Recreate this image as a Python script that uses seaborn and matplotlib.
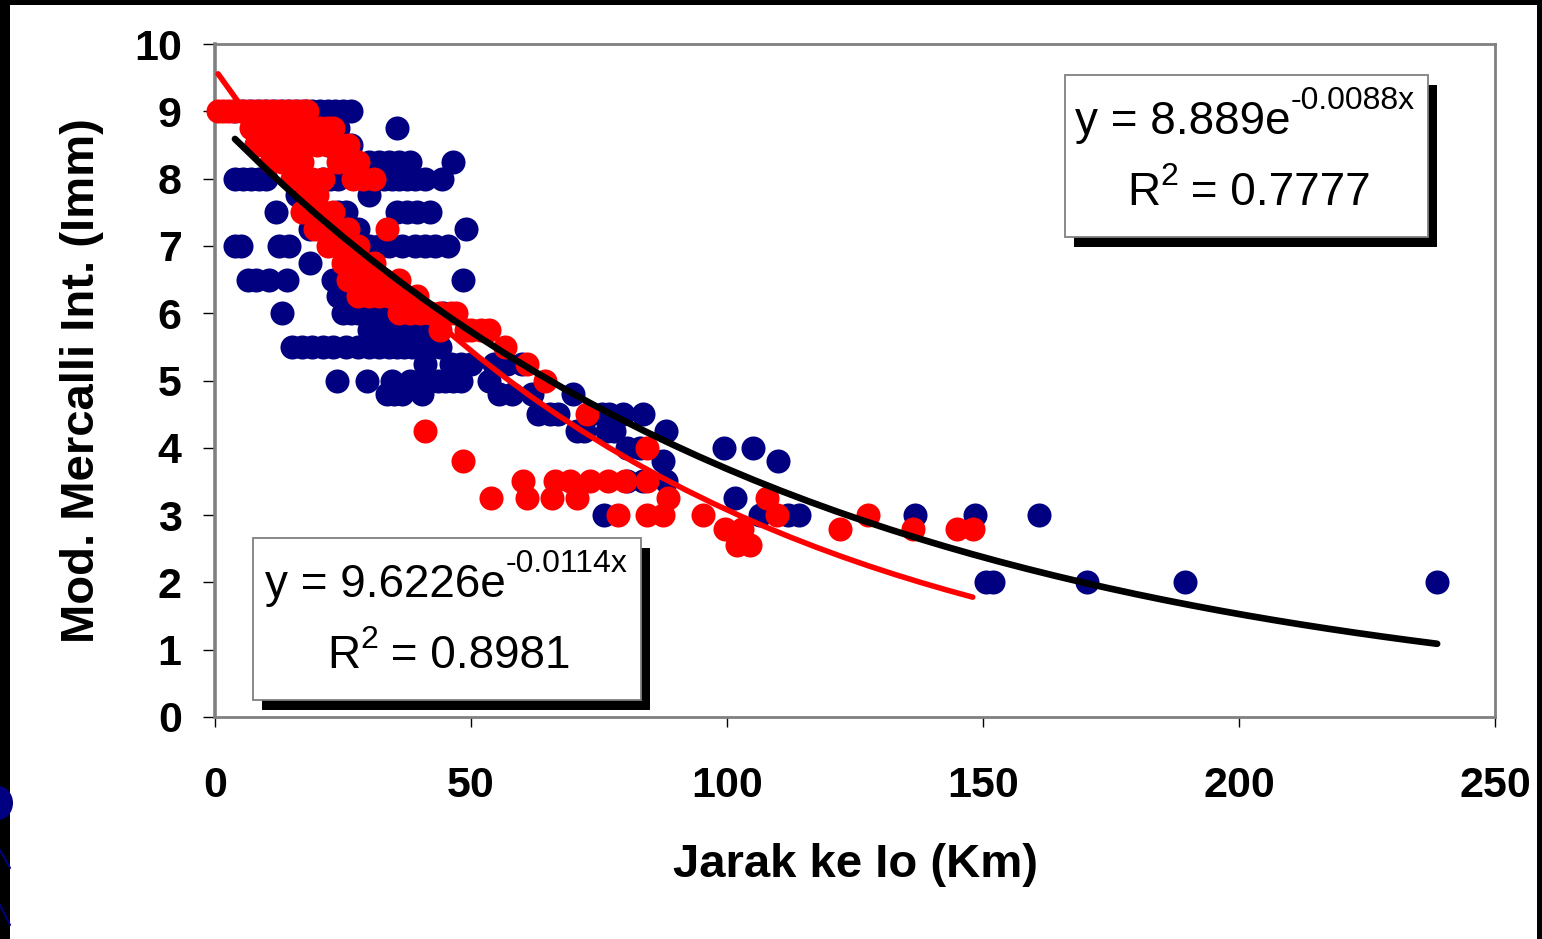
import numpy as np
import pandas as pd
import matplotlib
matplotlib.use("Agg")
import matplotlib.pyplot as plt
import seaborn as sns
from matplotlib.patches import Rectangle, Ellipse

# ---------------- data ----------------
blue_x = ([4, 5.5, 7, 8.5, 10, 11.5, 13, 14.5, 16, 17.5, 19, 20.5, 22, 23.5, 25, 26.5]
          + [12, 16, 20, 24, 35.5]
          + [8, 22, 26.5]
          + [30, 32, 34, 36, 38, 46.5]
          + [4, 5.5, 7, 8.5, 10, 21, 22.5, 24, 30, 31.5, 33, 34.5, 36, 37.5, 39, 41, 44.3]
          + [16, 19, 30]
          + [12, 24, 25.5, 35.5, 37.5, 39.5, 42]
          + [18.5, 22, 28, 49]
          + [3.9, 5, 12.5, 14.5, 27, 30, 32, 34, 36.5, 39, 41, 43, 45.5]
          + [18.5, 29]
          + [6.5, 8, 10.5, 14, 23, 24.5, 26, 48.4]
          + [24, 25.5, 27, 28.5, 31]
          + [13, 25, 26.5, 28, 29.5, 31, 32.5, 34, 35.5, 37.5, 44.5]
          + [30, 31.5, 33, 35, 37, 39, 41, 43]
          + [15, 17, 19, 21, 23, 25.5, 28, 30, 32, 34, 35.5, 37, 38.5, 40, 42, 44]
          + [41, 46, 48, 50, 54.5, 57, 60]
          + [23.8, 29.7, 34.5, 38, 40.5, 42, 43.5, 45, 46.5, 48, 53.5]
          + [33.5, 35, 36.5, 40.5, 55.5, 58, 62, 70]
          + [63, 65.4, 67, 73.5, 75.5, 77, 79.7, 83.6]
          + [70.7, 72, 76.5, 78, 88]
          + [80.5, 83, 99.5, 105]
          + [87.5, 110]
          + [80.5, 83.6, 88]
          + [101.5]
          + [76, 106.4, 112, 114, 136.7, 148.4, 161]
          + [150.5, 152, 170.3, 189.5, 238.7])
blue_y = ([9] * 16 + [8.75] * 5 + [8.5] * 3 + [8.25] * 6 + [8] * 17 + [7.75] * 3
          + [7.5] * 7 + [7.25] * 4 + [7] * 13 + [6.75] * 2 + [6.5] * 8 + [6.25] * 5
          + [6] * 11 + [5.75] * 8 + [5.5] * 16 + [5.25] * 7 + [5] * 11 + [4.8] * 8
          + [4.5] * 8 + [4.25] * 5 + [4] * 4 + [3.8] * 2 + [3.5] * 3 + [3.25] * 1
          + [3] * 7 + [2] * 5)

red_x = ([0.6, 1.5, 2.5, 3.5, 5, 6.5, 8, 9.5, 11, 12.5, 14, 15.5, 17, 18]
         + [7, 8.5, 10, 11.5, 13, 14.5, 16, 17.5, 19, 20.5, 22, 23]
         + [8, 10, 12, 14, 16, 20, 22, 24, 26]
         + [11, 13, 15, 17, 24, 26, 28]
         + [15, 17, 19, 21, 27, 29, 31]
         + [18, 20]
         + [17, 19, 21, 23]
         + [19.5, 22, 24, 26, 33.6]
         + [22, 24, 26, 28]
         + [25, 27, 29, 31]
         + [26, 28, 30, 31.5, 33, 36]
         + [28, 30, 32, 34, 36, 39.5]
         + [36, 38, 40, 42, 44, 46, 47]
         + [44, 49, 50, 52, 53.5]
         + [56.6] + [61] + [64.5] + [72.7] + [41] + [84.4] + [48.4]
         + [60.2, 66.4, 69.3, 73.2, 76.8, 80.1, 84.4]
         + [54, 61, 65.8, 70.7, 88.5, 107.8]
         + [78.7, 84.4, 87.5, 95.3, 109.8, 127.5]
         + [99.6, 103, 122, 136.3, 145, 148]
         + [102, 104.5])
red_y = ([9] * 14 + [8.75] * 12 + [8.5] * 9 + [8.25] * 7 + [8] * 7 + [7.75] * 2
         + [7.5] * 4 + [7.25] * 5 + [7] * 4 + [6.75] * 4 + [6.5] * 6 + [6.25] * 6
         + [6] * 7 + [5.75] * 5 + [5.5] + [5.25] + [5] + [4.5] + [4.25] + [4] + [3.8]
         + [3.5] * 7 + [3.25] * 6 + [3] * 6 + [2.8] * 6 + [2.55] * 2)

# exponential trend lines shown on the chart: y = a * exp(b x)
blue_a, blue_b, blue_r2 = 8.889, -0.0088, 0.7777
red_a, red_b, red_r2 = 9.6226, -0.0114, 0.8981

x_ticks = [0, 50, 100, 150, 200, 250]
y_ticks = list(range(0, 11))
x_label = "Jarak ke Io (Km)"
y_label = "Mod. Mercalli Int. (Imm)"

BLUE = "#000080"
RED = "#FF0000"

# ---------------- figure ----------------
sns.set_style("white")
plt.rcParams["font.family"] = ["Liberation Sans", "DejaVu Sans"]
plt.rcParams["text.color"] = "black"
plt.rcParams["axes.labelcolor"] = "black"
plt.rcParams["xtick.color"] = "black"
plt.rcParams["ytick.color"] = "black"

W, H = 1542, 939
fig = plt.figure(figsize=(W / 100, H / 100), dpi=100)
fig.patch.set_facecolor("white")


def fx(px):
    return px / W


def fy(py):
    return 1 - py / H


ax = fig.add_axes([fx(215), fy(717), 1280 / W, 673 / H])
ax.set_facecolor("white")

blue_df = pd.DataFrame({"x": blue_x, "y": blue_y})
red_df = pd.DataFrame({"x": red_x, "y": red_y})

sns.scatterplot(data=blue_df, x="x", y="y", ax=ax, color=BLUE, s=300,
                linewidth=0, zorder=2, clip_on=False)
sns.scatterplot(data=red_df, x="x", y="y", ax=ax, color=RED, s=300,
                linewidth=0, zorder=3, clip_on=False)

bx = np.linspace(min(blue_x), max(blue_x), 45)
rx = np.linspace(min(red_x), max(red_x), 30)
blue_trend = pd.DataFrame({"x": bx, "y": blue_a * np.exp(blue_b * bx)})
red_trend = pd.DataFrame({"x": rx, "y": red_a * np.exp(red_b * rx)})
sns.lineplot(data=red_trend, x="x", y="y", ax=ax, color=RED, linewidth=4.0,
             estimator=None, zorder=4)
sns.lineplot(data=blue_trend, x="x", y="y", ax=ax, color="black", linewidth=4.8,
             estimator=None, zorder=5)

ax.set_xlim(0, 250)
ax.set_ylim(0, 10)
ax.set_xticks(x_ticks)
ax.set_yticks(y_ticks)
ax.tick_params(axis="y", direction="out", length=9, width=1.0, color="black",
               labelcolor="black", pad=15, labelsize=31, left=True)
ax.tick_params(axis="x", direction="out", length=7, width=1.0, color="black",
               labelcolor="black", pad=28, labelsize=31, bottom=True)
for lab in ax.get_xticklabels() + ax.get_yticklabels():
    lab.set_fontweight("bold")

for side in ["top", "right", "bottom", "left"]:
    ax.spines[side].set_visible(True)
    ax.spines[side].set_color("#808080")
    ax.spines[side].set_linewidth(2.0)
ax.spines["left"].set_linewidth(2.6)

ax.set_xlabel(x_label, fontsize=34, fontweight="bold", va="center",
              color="black")
ax.xaxis.set_label_coords(0.5, -(865 - 717) / 673)
ax.set_ylabel(y_label, fontsize=34, fontweight="bold", va="center",
              color="black")
ax.yaxis.set_label_coords((82 - 215) / 1280, 0.5)
ax.grid(False)

# ---------------- equation boxes ----------------
def box(x0, y0, x1, y1):
    shadow = Rectangle((fx(x0 + 9), fy(y1 + 10)), (x1 - x0) / W, (y1 - y0) / H,
                       transform=fig.transFigure, facecolor="black",
                       edgecolor="none", zorder=6)
    frame = Rectangle((fx(x0), fy(y1)), (x1 - x0) / W, (y1 - y0) / H,
                      transform=fig.transFigure, facecolor="white",
                      edgecolor="#808080", linewidth=1.3, zorder=7)
    fig.add_artist(shadow)
    fig.add_artist(frame)


renderer = fig.canvas.get_renderer()


def rich(parts, x, base, ha="left"):
    """parts: list of (text, fontsize, raise_px)"""
    texts = []
    cur = x
    for s, size, dy in parts:
        t = fig.text(fx(cur), fy(base - dy), s, fontsize=size, ha="left",
                     va="baseline", color="black", zorder=8,
                     family=["Liberation Sans", "DejaVu Sans"])
        bb = t.get_window_extent(renderer)
        cur += bb.width
        texts.append(t)
    if ha == "center":
        shift = (cur - x) / 2
        for t in texts:
            px, py = t.get_position()
            t.set_position((px - shift / W, py))
    return texts


box(1065, 75, 1428, 237)
rich([("y = %.3fe" % blue_a, 33, 0), ("%.4fx" % blue_b, 23, 25)], 1075, 134)
rich([("R", 33, 0), ("2", 23, 20), (" = %.4f" % blue_r2, 33, 0)], 1249, 205,
     ha="center")

box(253, 538, 641, 700)
rich([("y = %.4fe" % red_a, 33, 0), ("%.4fx" % red_b, 23, 25)], 265, 597)
rich([("R", 33, 0), ("2", 23, 20), (" = %.4f" % red_r2, 33, 0)], 449, 668,
     ha="center")

# ---------------- slide frame decoration ----------------
for (x0, y0, w, h) in [(0, 0, W, 5), (0, 0, 10, H), (1537, 0, 5, H)]:
    fig.add_artist(Rectangle((fx(x0), fy(y0 + h)), w / W, h / H,
                             transform=fig.transFigure, facecolor="black",
                             edgecolor="none", zorder=20))
fig.add_artist(Ellipse((fx(-2), fy(803)), 30 / W, 34 / H,
                       transform=fig.transFigure, facecolor=BLUE,
                       edgecolor="none", zorder=21))
fig.add_artist(plt.Line2D([fx(0), fx(10)], [fy(850), fy(868)],
                          transform=fig.transFigure, color=BLUE, lw=1.5,
                          zorder=21))
fig.add_artist(plt.Line2D([fx(0), fx(10)], [fy(905), fy(925)],
                          transform=fig.transFigure, color=BLUE, lw=1.5,
                          zorder=21))

fig.savefig("out.png", dpi=100)
